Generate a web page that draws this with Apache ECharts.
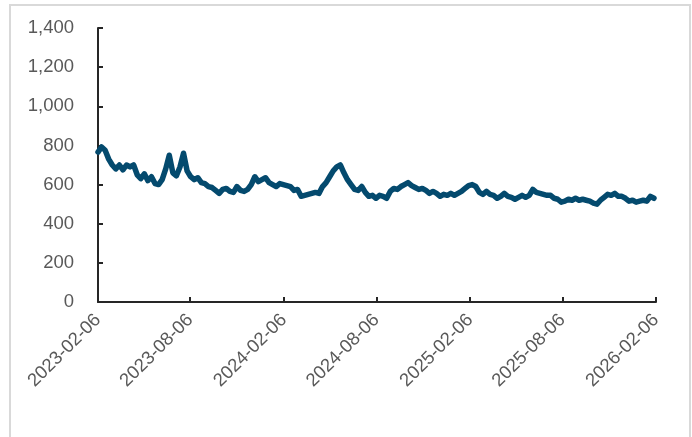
<!DOCTYPE html>
<html>
<head>
<meta charset="utf-8">
<script src="https://cdn.jsdelivr.net/npm/echarts@6/dist/echarts.min.js"></script>
<style>
html,body{margin:0;padding:0;background:#fff;}
#chart{width:692px;height:437px;}
</style>
</head>
<body>
<div id="chart"></div>
<script>
// Weekly observations starting 2023-02-06
const startDate = '2023-02-06';
const endDate = '2026-02-06';
const values = [
766,792,775,730,700,680,700,675,700,690,
700,650,630,655,620,640,605,600,625,680,
750,660,645,690,760,670,640,625,635,610,
605,590,585,570,555,575,580,565,560,590,
570,565,575,600,640,615,625,635,610,600,
590,605,600,595,590,570,575,540,545,550,
555,560,555,590,610,640,670,690,700,660,
625,600,575,570,590,560,540,545,530,545,
540,530,565,580,575,590,600,610,595,585,
575,580,570,555,565,555,540,550,545,555,
545,555,565,580,595,600,590,560,550,565,
550,545,530,540,555,540,535,525,535,545,
535,545,575,560,555,550,545,545,530,525,
510,515,525,520,530,520,525,520,515,505,
500,520,535,550,545,555,540,540,530,515,
520,510,515,520,515,540,530
];
const tickLabels = ['2023-02-06','2023-08-06','2024-02-06','2024-08-06','2025-02-06','2025-08-06','2026-02-06'];
const yTicks = [0,200,400,600,800,1000,1200,1400];

const DAY = 86400000;
const toTs = s => { const p = s.split('-').map(Number); return Date.UTC(p[0], p[1]-1, p[2]); };
const t0 = toTs(startDate);
const seriesData = values.map((v,i) => [t0 + i*7*DAY, v]);
const tickTs = tickLabels.map(toTs);
const pad = n => (n<10?'0':'')+n;
const fmtDate = ts => { const d = new Date(ts); return d.getUTCFullYear()+'-'+pad(d.getUTCMonth()+1)+'-'+pad(d.getUTCDate()); };

const FONT = 'Liberation Sans, Arial, sans-serif';
const chart = echarts.init(document.getElementById('chart'), null, {renderer:'canvas'});
chart.setOption({
  animation:false,
  backgroundColor:'#fff',
  graphic:[{
    type:'rect', silent:true, z:-1,
    shape:{x:10,y:5,width:680,height:445},
    style:{fill:'none',stroke:'#d9d9d9',lineWidth:2}
  }],
  grid:{left:98,right:36,top:28,bottom:135,containLabel:false},
  xAxis:{
    type:'value',
    min:toTs(startDate), max:toTs(endDate),
    axisLine:{show:true,lineStyle:{color:'#262626',width:2}},
    axisTick:{show:true,inside:true,length:5,lineStyle:{color:'#262626',width:2},customValues:tickTs},
    axisLabel:{customValues:tickTs,formatter:v=>fmtDate(v),rotate:45,margin:15,color:'#595959',fontSize:18.5,fontFamily:FONT,hideOverlap:false,showMinLabel:true,showMaxLabel:true},
    splitLine:{show:false}
  },
  yAxis:{
    type:'value',min:yTicks[0],max:yTicks[yTicks.length-1],interval:200,
    axisLine:{show:true,lineStyle:{color:'#262626',width:2}},
    axisTick:{show:true,inside:true,length:5,lineStyle:{color:'#262626',width:2}},
    axisLabel:{formatter:v=>v.toLocaleString('en-US'),margin:24,color:'#595959',fontSize:18.5,fontFamily:FONT},
    splitLine:{show:false}
  },
  series:[{
    type:'line',data:seriesData,showSymbol:false,smooth:false,
    lineStyle:{color:'#044a6e',width:5.5,join:'round',cap:'round'},
    itemStyle:{color:'#044a6e'}
  }]
});
</script>
</body>
</html>
